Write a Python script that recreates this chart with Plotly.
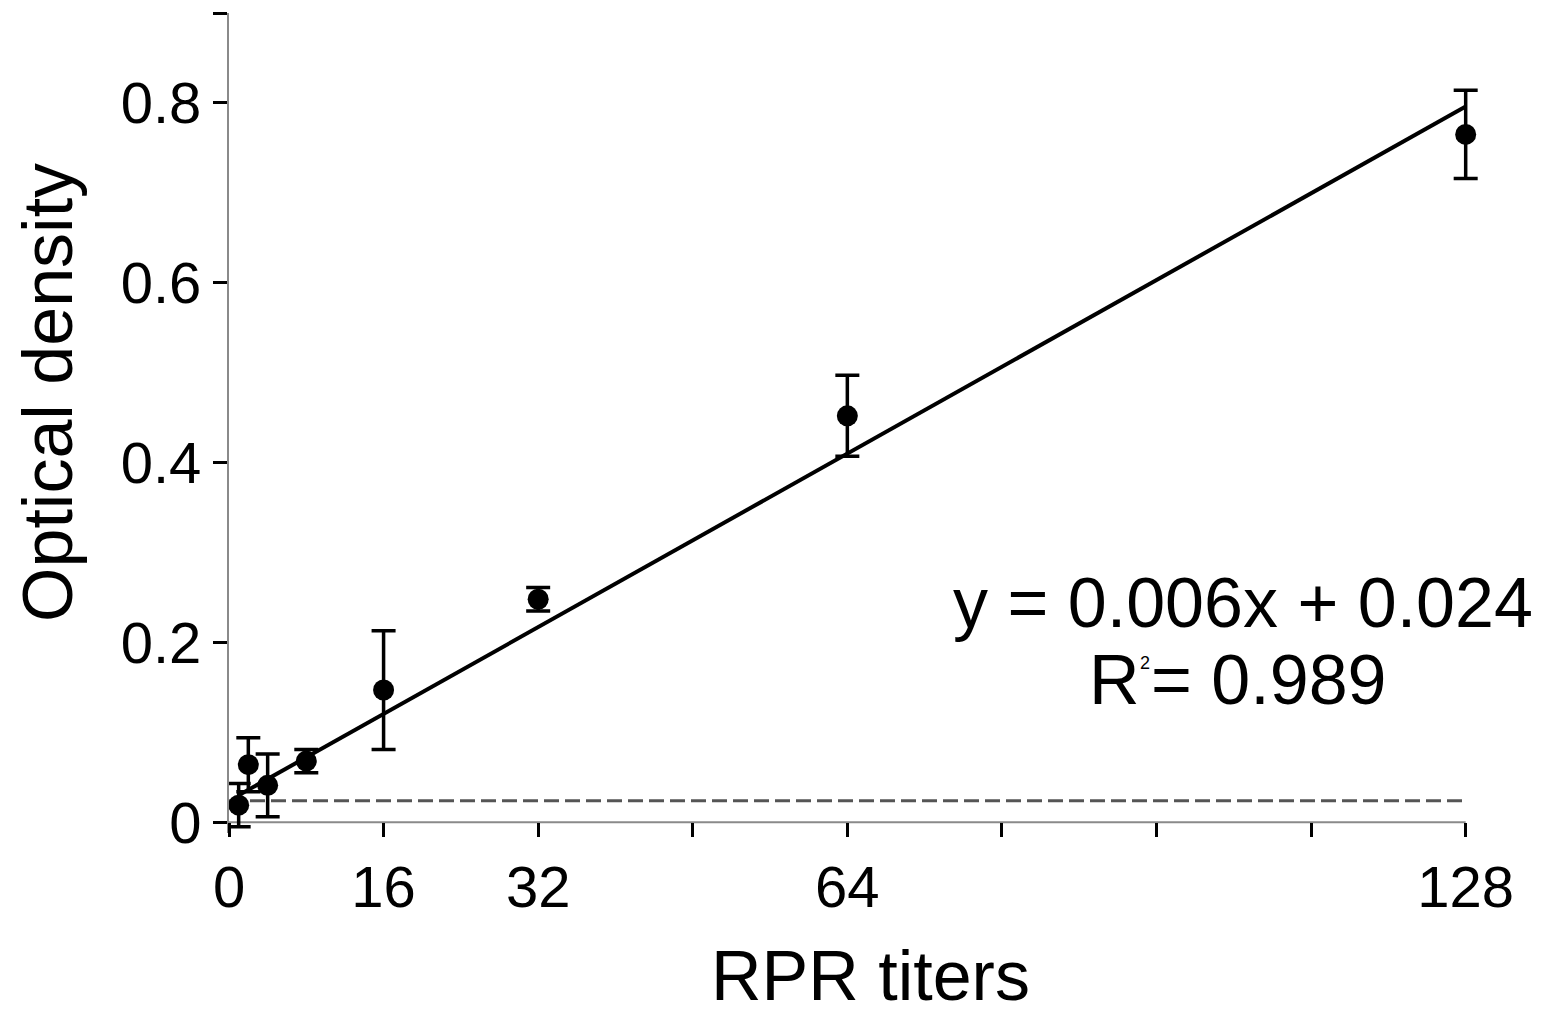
import plotly.graph_objects as go

# Data
titers = [1, 2, 4, 8, 16, 32, 64, 128]
od_mean = [0.019, 0.064, 0.041, 0.068, 0.147, 0.248, 0.452, 0.765]
od_err = [0.024, 0.030, 0.035, 0.013, 0.066, 0.013, 0.045, 0.049]

fit_x = [1, 128]
fit_y = [0.030, 0.796]

cutoff_x = [0, 128]
cutoff_y = [0.024, 0.024]

x_tickvals = [0, 16, 32, 48, 64, 80, 96, 112, 128]
x_ticktext = ["0", "16", "32", "", "64", "", "", "", "128"]
y_tickvals = [0, 0.2, 0.4, 0.6, 0.8, 0.9]
y_ticktext = ["0", "0.2", "0.4", "0.6", "0.8", ""]

FONT = "Liberation Sans, Arial, Helvetica, sans-serif"

W, H = 1548, 1016
X_RANGE = [0, 130]
Y_RANGE = [-0.012, 0.9]
ML, MR, MT, MB = 229, 63, 13, 183
PW, PH = W - ML - MR, H - MT - MB

# paper fraction where y = 0 sits (x axis is drawn there)
x_axis_pos = (0 - Y_RANGE[0]) / (Y_RANGE[1] - Y_RANGE[0])
x_axis_end = (128 - X_RANGE[0]) / (X_RANGE[1] - X_RANGE[0])


def px(xp):
    return (xp - ML) / PW


def py(yp):
    return (H - MB - yp) / PH


fig = go.Figure()

fig.add_trace(go.Scatter(
    x=cutoff_x, y=cutoff_y, mode="lines",
    line=dict(color="#555555", width=3, dash="15px,6px"),
    hoverinfo="skip", showlegend=False,
))

fig.add_trace(go.Scatter(
    x=fit_x, y=fit_y, mode="lines",
    line=dict(color="black", width=4),
    showlegend=False, cliponaxis=False,
))

fig.add_trace(go.Scatter(
    x=titers, y=od_mean, mode="markers",
    marker=dict(color="black", size=21),
    error_y=dict(type="data", array=od_err, visible=True,
                 color="black", thickness=3.5, width=12),
    showlegend=False, cliponaxis=False,
))

fig.update_layout(
    width=W, height=H,
    margin=dict(l=ML, r=MR, t=MT, b=MB),
    paper_bgcolor="white", plot_bgcolor="white",
    font=dict(family=FONT, color="black", size=58),
    xaxis=dict(
        range=X_RANGE, tickmode="array", tickvals=x_tickvals, ticktext=x_ticktext,
        anchor="free", position=x_axis_pos,
        showgrid=False, zeroline=False, showline=False,
        ticks="outside", ticklen=14, tickwidth=3, tickcolor="black",
        tickfont=dict(size=58, family=FONT),
    ),
    yaxis=dict(
        range=Y_RANGE, tickmode="array", tickvals=y_tickvals, ticktext=y_ticktext,
        showgrid=False, zeroline=False, showline=True, linecolor="#8a8a8a", linewidth=2,
        ticks="outside", ticklen=14, tickwidth=3, tickcolor="black",
        tickfont=dict(size=58, family=FONT),
    ),
)

# x axis line from 0 to 128 at y = 0
fig.add_shape(
    type="line", xref="paper", yref="paper",
    x0=0, x1=x_axis_end, y0=x_axis_pos, y1=x_axis_pos,
    line=dict(color="#8a8a8a", width=2), layer="below",
)

fig.add_annotation(
    text="RPR titers", xref="paper", yref="paper", x=px(870), y=py(976),
    showarrow=False, font=dict(size=70, family=FONT), xanchor="center", yanchor="middle",
)
fig.add_annotation(
    text="Optical density", xref="paper", yref="paper", x=px(48), y=py(393),
    showarrow=False, textangle=-90, font=dict(size=70, family=FONT), xanchor="center", yanchor="middle",
)
fig.add_annotation(
    text="y = 0.006x + 0.024", xref="paper", yref="paper", x=px(1243), y=py(603),
    showarrow=False, font=dict(size=70, family=FONT), xanchor="center", yanchor="middle",
)
fig.add_annotation(
    text="R", xref="paper", yref="paper", x=px(1142), y=py(680),
    showarrow=False, font=dict(size=70, family=FONT), xanchor="right", yanchor="middle",
)
fig.add_annotation(
    text="2", xref="paper", yref="paper", x=px(1145), y=py(663),
    showarrow=False, font=dict(size=18, family=FONT), xanchor="center", yanchor="middle",
)
fig.add_annotation(
    text="= 0.989", xref="paper", yref="paper", x=px(1149), y=py(680),
    showarrow=False, font=dict(size=70, family=FONT), xanchor="left", yanchor="middle",
)

fig.write_html(
    "out.html",
    config={"displayModeBar": False},
    post_script="document.body.style.margin='0';document.body.style.overflow='hidden';",
)
